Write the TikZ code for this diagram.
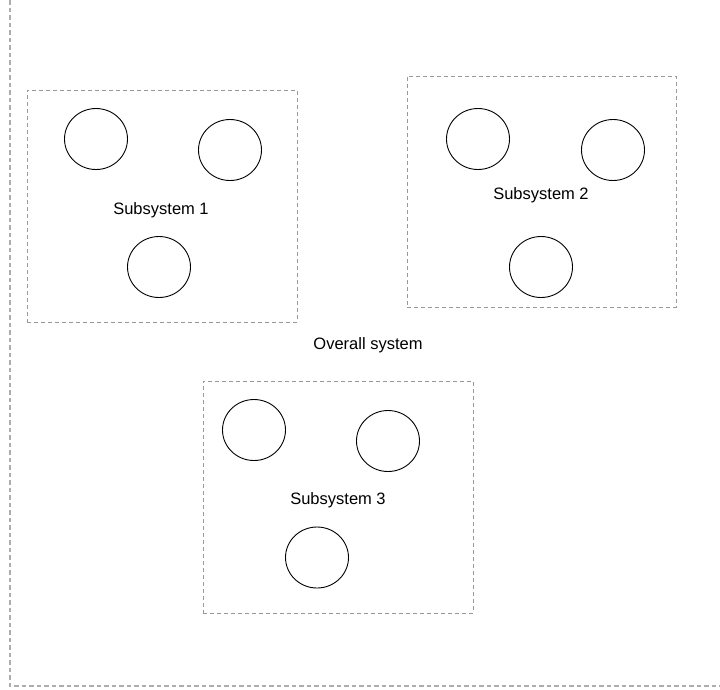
\documentclass[tikz,border=0pt]{standalone}
\usepackage{fontspec}
\setmainfont{Liberation Sans}
\usetikzlibrary{shapes.geometric}
\definecolor{outergray}{HTML}{ADADAD}
\definecolor{boxgray}{HTML}{999999}
\tikzset{
  outerframe/.style={draw=outergray, line width=1.1pt, dash pattern=on 4.5pt off 3pt},
  subbox/.style={draw=boxgray, line width=1pt, dash pattern=on 4pt off 3pt, inner sep=0pt},
  comp/.style={draw=black, ellipse, line width=0.9pt, minimum width=63pt, minimum height=61pt, inner sep=0pt},
  lbl/.style={font=\fontsize{16.5}{18}\selectfont, anchor=base, inner sep=0pt}
}
\begin{document}
\begin{tikzpicture}[x=1pt,y=-1pt]
\useasboundingbox (0,0) rectangle (720,689);
\begin{scope}
\clip (0,0) rectangle (720,689);
% overall system frame (extends past the top and right edges)
\coordinate (otl) at (10,0);
\coordinate (obl) at (10,686);
\coordinate (obr) at (720,686);
\draw[outerframe] (otl) -- (obl) -- (obr);
\end{scope}
\node[lbl] (overall) at (368,349) {Overall system};
% subsystem 1
\node[subbox, minimum width=270pt, minimum height=232pt] (s1) at (162,206) {};
\node[comp] (s1a) at (96,139) {};
\node[comp] (s1b) at (230,150) {};
\node[comp] (s1c) at (159,267) {};
\node[lbl] (s1l) at (161,214) {Subsystem 1};
% subsystem 2
\node[subbox, minimum width=269pt, minimum height=231pt] (s2) at (541.5,191.5) {};
\node[comp] (s2a) at (478,139) {};
\node[comp] (s2b) at (613,150) {};
\node[comp] (s2c) at (541,267) {};
\node[lbl] (s2l) at (541,199) {Subsystem 2};
% subsystem 3
\node[subbox, minimum width=270pt, minimum height=232pt] (s3) at (338,497) {};
\node[comp] (s3a) at (254,430) {};
\node[comp] (s3b) at (388,441) {};
\node[comp] (s3c) at (317,557.5) {};
\node[lbl] (s3l) at (338,504) {Subsystem 3};
\end{tikzpicture}
\end{document}
